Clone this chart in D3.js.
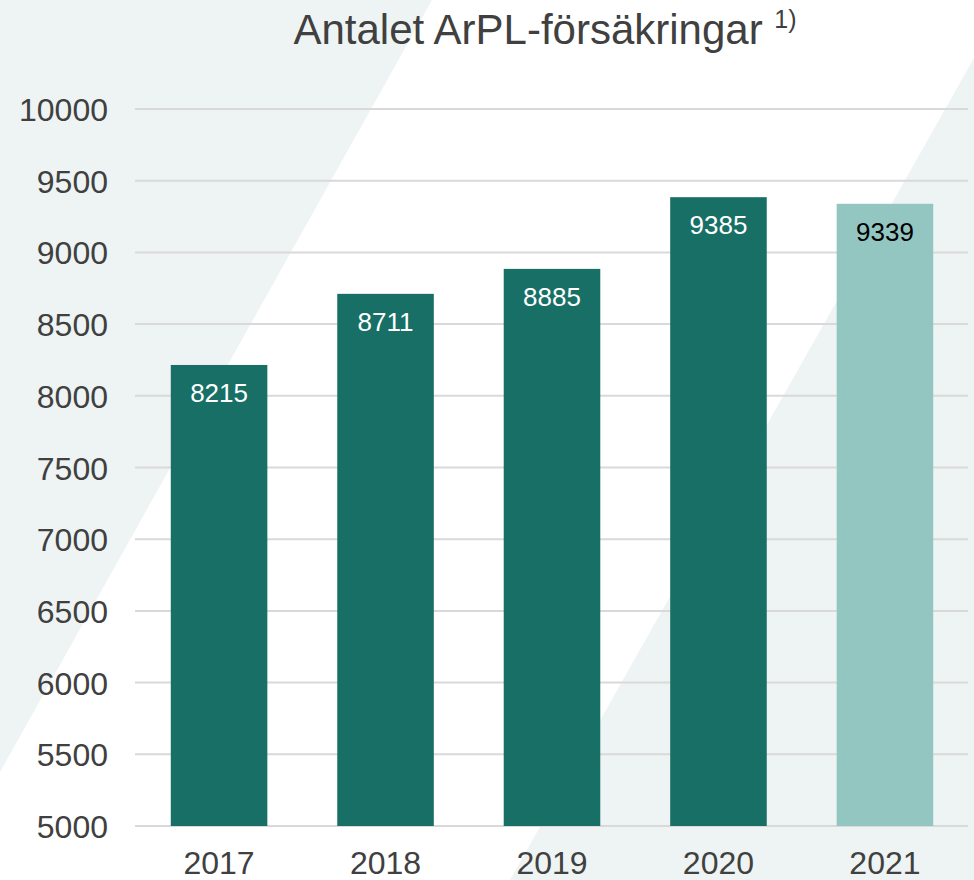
<!DOCTYPE html>
<html>
<head>
<meta charset="utf-8">
<script src="https://cdn.jsdelivr.net/npm/d3@7"></script>
<style>
  html, body { margin: 0; padding: 0; background: #ffffff; }
  svg { display: block; }
  text { font-family: "Liberation Sans", Arial, sans-serif; }
</style>
</head>
<body>
<svg id="chart" width="974" height="880"></svg>
<script>
const categories = ["2017", "2018", "2019", "2020", "2021"];
const values = [8215, 8711, 8885, 9385, 9339];
const yTicks = [5000, 5500, 6000, 6500, 7000, 7500, 8000, 8500, 9000, 9500, 10000];
const titleText = "Antalet ArPL-försäkringar";
const titleNote = "1)";

const W = 974, H = 880;
const svg = d3.select("#chart");

// background decorative shapes
const bg = svg.append("g");
bg.append("rect").attr("width", W).attr("height", H).attr("fill", "#ffffff");
bg.append("path").attr("d", "M0,0 L432,0 L0,772 Z").attr("fill", "#eef4f3");
bg.append("path").attr("d", "M974,58 L974,880 L510,880 Z").attr("fill", "#eef4f3");

const x = d3.scaleBand().domain(categories).range([135, 969]).paddingInner(0.42).paddingOuter(0.215);
const y = d3.scaleLinear().domain([5000, 10000]).range([826, 109]);

// gridlines
const grid = svg.append("g");
grid.selectAll("line").data(yTicks).join("line")
  .attr("x1", 135).attr("x2", 968)
  .attr("y1", d => y(d)).attr("y2", d => y(d))
  .attr("stroke", "#d9d9d9").attr("stroke-width", 2);

// y axis labels
const yAxis = svg.append("g").attr("transform", "translate(108,0)")
  .call(d3.axisLeft(y).tickValues(yTicks).tickSize(0).tickPadding(0).tickFormat(d3.format("d")));
yAxis.select(".domain").remove();
yAxis.selectAll("text")
  .attr("font-size", 32).attr("fill", "#404040")
  .attr("font-family", "Liberation Sans, Arial, sans-serif")
  .attr("x", 0).attr("dy", "0.36em");

// bars
svg.append("g").selectAll("rect").data(values).join("rect")
  .attr("x", (d, i) => x(categories[i]))
  .attr("width", x.bandwidth())
  .attr("y", d => y(d))
  .attr("height", d => y(5000) - y(d))
  .attr("fill", (d, i) => i === 4 ? "#93c6c1" : "#176f65");

// bar labels
svg.append("g").selectAll("text").data(values).join("text")
  .attr("x", (d, i) => x(categories[i]) + x.bandwidth() / 2)
  .attr("y", d => y(d) + 37)
  .attr("text-anchor", "middle")
  .attr("font-size", 26)
  .attr("fill", (d, i) => i === 4 ? "#000000" : "#ffffff")
  .text(d => d);

// x axis labels
const xAxis = svg.append("g").attr("transform", "translate(0,826)")
  .call(d3.axisBottom(x).tickSize(0).tickPadding(0));
xAxis.select(".domain").remove();
xAxis.selectAll("text")
  .attr("font-size", 32).attr("fill", "#404040")
  .attr("font-family", "Liberation Sans, Arial, sans-serif")
  .attr("y", 48).attr("dy", 0);

// title
const t = svg.append("text")
  .attr("x", 545).attr("y", 44)
  .attr("text-anchor", "middle")
  .attr("font-size", 42)
  .attr("fill", "#404040");
t.append("tspan").text(titleText + " ");
t.append("tspan").attr("font-size", 25).attr("dy", -16).text(titleNote);
</script>
</body>
</html>
